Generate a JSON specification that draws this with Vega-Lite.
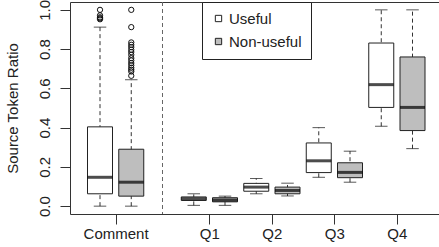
{
  "$schema": "https://vega.github.io/schema/vega-lite/v6.json",
  "width": 369,
  "height": 212,
  "autosize": "none",
  "padding": {"left": 70, "top": 2, "right": 0, "bottom": 33},
  "background": "white",
  "config": {
    "font": "Liberation Sans",
    "view": {"stroke": "#333", "strokeWidth": 1},
    "axis": {
      "labelFont": "Liberation Sans",
      "titleFont": "Liberation Sans",
      "labelFontSize": 15,
      "titleFontSize": 15,
      "titleFontWeight": "normal",
      "labelColor": "#222",
      "titleColor": "#222",
      "tickColor": "#333",
      "grid": false,
      "domain": false,
      "tickSize": 10
    },
    "legend": {
      "orient": "none",
      "legendX": 132,
      "legendY": 0,
      "strokeColor": "#222",
      "fillColor": "white",
      "padding": 9,
      "rowPadding": 7,
      "labelFont": "Liberation Sans",
      "labelFontSize": 15,
      "labelColor": "#222",
      "labelOffset": 3,
      "symbolType": "square",
      "symbolSize": 40,
      "symbolStrokeWidth": 1
    }
  },
  "datasets": {
    "boxes": [
      {"box": "Comment|Useful", "series": "Useful", "lo": 0.0, "q1": 0.063, "med": 0.147, "q3": 0.404, "hi": 0.912},
      {"box": "Comment|Non-useful", "series": "Non-useful", "lo": 0.0, "q1": 0.051, "med": 0.122, "q3": 0.29, "hi": 0.644},
      {"box": "Q1|Useful", "series": "Useful", "lo": 0.004, "q1": 0.029, "med": 0.038, "q3": 0.047, "hi": 0.063},
      {"box": "Q1|Non-useful", "series": "Non-useful", "lo": 0.004, "q1": 0.022, "med": 0.031, "q3": 0.043, "hi": 0.051},
      {"box": "Q2|Useful", "series": "Useful", "lo": 0.063, "q1": 0.076, "med": 0.097, "q3": 0.116, "hi": 0.141},
      {"box": "Q2|Non-useful", "series": "Non-useful", "lo": 0.052, "q1": 0.063, "med": 0.08, "q3": 0.097, "hi": 0.117},
      {"box": "Q3|Useful", "series": "Useful", "lo": 0.147, "q1": 0.171, "med": 0.231, "q3": 0.322, "hi": 0.4},
      {"box": "Q3|Non-useful", "series": "Non-useful", "lo": 0.122, "q1": 0.145, "med": 0.172, "q3": 0.221, "hi": 0.28},
      {"box": "Q4|Useful", "series": "Useful", "lo": 0.407, "q1": 0.503, "med": 0.619, "q3": 0.831, "hi": 1.0},
      {"box": "Q4|Non-useful", "series": "Non-useful", "lo": 0.293, "q1": 0.385, "med": 0.503, "q3": 0.76, "hi": 1.0}
    ],
    "outliers": [
      {"box": "Comment|Useful", "value": 1.0},
      {"box": "Comment|Useful", "value": 0.972},
      {"box": "Comment|Useful", "value": 0.962},
      {"box": "Comment|Useful", "value": 0.957},
      {"box": "Comment|Useful", "value": 0.952},
      {"box": "Comment|Non-useful", "value": 1.0},
      {"box": "Comment|Non-useful", "value": 0.912},
      {"box": "Comment|Non-useful", "value": 0.834},
      {"box": "Comment|Non-useful", "value": 0.822},
      {"box": "Comment|Non-useful", "value": 0.81},
      {"box": "Comment|Non-useful", "value": 0.797},
      {"box": "Comment|Non-useful", "value": 0.785},
      {"box": "Comment|Non-useful", "value": 0.771},
      {"box": "Comment|Non-useful", "value": 0.754},
      {"box": "Comment|Non-useful", "value": 0.742},
      {"box": "Comment|Non-useful", "value": 0.729},
      {"box": "Comment|Non-useful", "value": 0.717},
      {"box": "Comment|Non-useful", "value": 0.705},
      {"box": "Comment|Non-useful", "value": 0.695},
      {"box": "Comment|Non-useful", "value": 0.686},
      {"box": "Comment|Non-useful", "value": 0.664}
    ],
    "separator": [{"box": "gap"}]
  },
  "encoding": {
    "x": {
      "field": "box",
      "type": "nominal",
      "scale": {
        "domain": ["Comment|Useful", "Comment|Non-useful", "gap", "Q1|Useful", "Q1|Non-useful", "Q2|Useful", "Q2|Non-useful", "Q3|Useful", "Q3|Non-useful", "Q4|Useful", "Q4|Non-useful"],
        "paddingInner": 0.2,
        "paddingOuter": 0.504,
        "align": 0.556
      },
      "axis": {
        "title": null,
        "values": ["Comment|Useful", "Q1|Useful", "Q2|Useful", "Q3|Useful", "Q4|Useful"],
        "ticks": true,
        "tickOffset": 15.6,
        "labelOffset": 0,
        "labelExpr": "split(datum.label, '|')[0]",
        "labelAngle": 0,
        "labelPadding": 2
      }
    }
  },
  "layer": [
    {
      "data": {"name": "boxes"},
      "mark": {"type": "rule", "strokeDash": [4, 3], "color": "#333", "strokeWidth": 1},
      "encoding": {
        "y": {
          "field": "lo",
          "type": "quantitative",
          "title": "Source Token Ratio",
          "scale": {"domain": [-0.04, 1.04], "nice": false, "zero": false},
          "axis": {"values": [0, 0.2, 0.4, 0.6, 0.8, 1.0], "format": ".1f", "labelAngle": 270, "labelPadding": 8, "titlePadding": 17}
        },
        "y2": {"field": "hi"}
      }
    },
    {
      "data": {"name": "boxes"},
      "mark": {"type": "tick", "orient": "horizontal", "size": 12.5, "thickness": 1, "color": "#111"},
      "encoding": {
        "y": {"field": "hi", "type": "quantitative", "title": "Source Token Ratio", "scale": {"domain": [-0.04, 1.04], "nice": false, "zero": false}}
      }
    },
    {
      "data": {"name": "boxes"},
      "mark": {"type": "tick", "orient": "horizontal", "size": 12.5, "thickness": 1, "color": "#111"},
      "encoding": {
        "y": {"field": "lo", "type": "quantitative", "title": "Source Token Ratio", "scale": {"domain": [-0.04, 1.04], "nice": false, "zero": false}}
      }
    },
    {
      "data": {"name": "boxes"},
      "mark": {"type": "bar", "stroke": "#222", "strokeWidth": 1},
      "encoding": {
        "y": {"field": "q1", "type": "quantitative", "title": "Source Token Ratio", "scale": {"domain": [-0.04, 1.04], "nice": false, "zero": false}},
        "y2": {"field": "q3"},
        "fill": {
          "field": "series",
          "type": "nominal",
          "scale": {"domain": ["Useful", "Non-useful"], "range": ["#ffffff", "#bebebe"]},
          "legend": {
            "title": null,
            "encode": {
              "symbols": {
                "update": {
                  "stroke": {"signal": "datum.value === 'Useful' ? '#111' : '#bebebe'"},
                  "strokeWidth": {"value": 1}
                }
              }
            }
          }
        }
      }
    },
    {
      "data": {"name": "boxes"},
      "mark": {"type": "tick", "orient": "horizontal", "size": 25, "thickness": 3, "color": "#000"},
      "encoding": {
        "y": {"field": "med", "type": "quantitative", "title": "Source Token Ratio", "scale": {"domain": [-0.04, 1.04], "nice": false, "zero": false}}
      }
    },
    {
      "data": {"name": "outliers"},
      "mark": {"type": "point", "shape": "circle", "filled": false, "size": 28, "stroke": "#111", "strokeWidth": 1, "opacity": 1},
      "encoding": {
        "y": {"field": "value", "type": "quantitative", "title": "Source Token Ratio", "scale": {"domain": [-0.04, 1.04], "nice": false, "zero": false}}
      }
    },
    {
      "data": {"name": "separator"},
      "mark": {"type": "rule", "strokeDash": [4, 3], "color": "#666", "strokeWidth": 1},
      "encoding": {}
    }
  ]
}
